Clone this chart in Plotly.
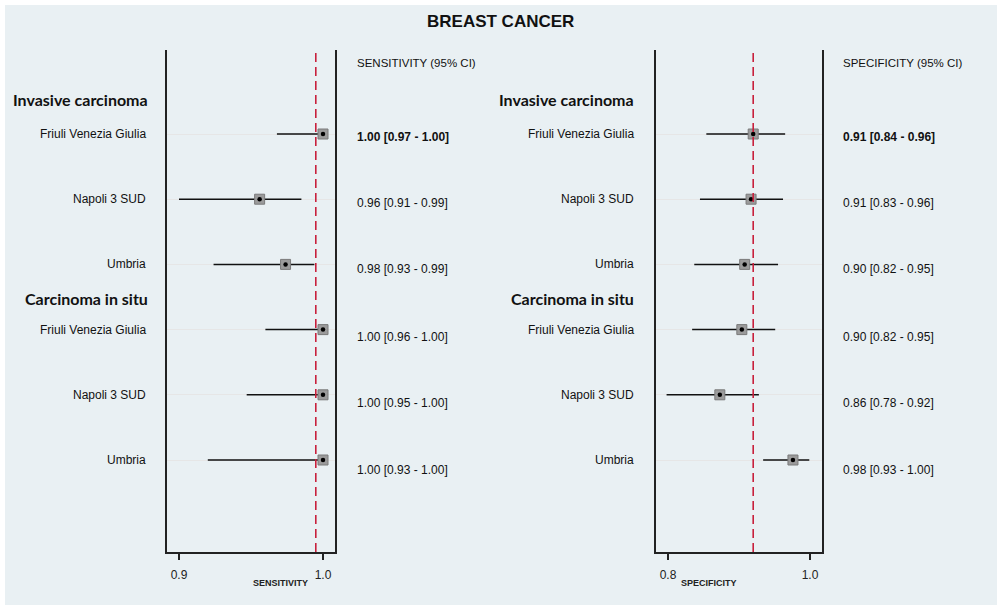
import plotly.graph_objects as go

# ---- data ----
regions = ["Friuli Venezia Giulia", "Napoli 3 SUD", "Umbria",
           "Friuli Venezia Giulia", "Napoli 3 SUD", "Umbria"]
groups = ["Invasive carcinoma", "Carcinoma in situ"]

sens_est = [1.000, 0.956, 0.974, 1.000, 1.000, 1.000]
sens_lo = [0.968, 0.900, 0.924, 0.960, 0.947, 0.920]
sens_hi = [1.000, 0.985, 0.994, 1.000, 1.000, 1.000]
sens_lbl = ["1.00 [0.97 - 1.00]", "0.96 [0.91 - 0.99]", "0.98 [0.93 - 0.99]",
            "1.00 [0.96 - 1.00]", "1.00 [0.95 - 1.00]", "1.00 [0.93 - 1.00]"]
sens_pooled = 0.995

spec_est = [0.920, 0.917, 0.908, 0.904, 0.873, 0.976]
spec_lo = [0.854, 0.845, 0.837, 0.834, 0.798, 0.934]
spec_hi = [0.965, 0.962, 0.955, 0.951, 0.928, 0.999]
spec_lbl = ["0.91 [0.84 - 0.96]", "0.91 [0.83 - 0.96]", "0.90 [0.82 - 0.95]",
            "0.90 [0.82 - 0.95]", "0.86 [0.78 - 0.92]", "0.98 [0.93 - 1.00]"]
spec_pooled = 0.920

sens_ticks = [0.9, 1.0]
spec_ticks = [0.8, 1.0]

# ---- layout constants ----
W, H = 1000, 609
BG = "#e9f0f3"
ROW_PX = 65.2
row_y = list(range(6))
px = lambda p: p / ROW_PX
y_range = [px(552 - 134), px(50 - 134)]
header_y = [px(99 - 134), px(298 - 134)]
lbl_off = [3, 4, 5, 7, 8, 10]

fig = go.Figure()

def panel(xa, ya, est, lo, hi):
    fig.add_trace(go.Scatter(
        x=est, y=row_y, xaxis=xa, yaxis=ya, mode="markers",
        marker=dict(symbol="square", size=10, color="#9b9b9b",
                    line=dict(color="#7a7a7a", width=1)),
        error_x=dict(type="data", symmetric=False,
                     array=[h - e for h, e in zip(hi, est)],
                     arrayminus=[e - l for e, l in zip(est, lo)],
                     color="#111111", thickness=1.5, width=0),
        hoverinfo="skip", showlegend=False))
    fig.add_trace(go.Scatter(
        x=est, y=row_y, xaxis=xa, yaxis=ya, mode="markers",
        marker=dict(symbol="circle", size=4.5, color="black"),
        hoverinfo="skip", showlegend=False))

panel("x", "y", sens_est, sens_lo, sens_hi)
panel("x2", "y2", spec_est, spec_lo, spec_hi)

ydom = [(H - 552) / H, (H - 50) / H]
axis_common = dict(showgrid=False, zeroline=False, showline=True,
                   linecolor="#222222", linewidth=1.5, ticks="outside",
                   ticklen=6, tickwidth=1.5, tickcolor="#222222",
                   ticklabelstandoff=5,
                   tickfont=dict(family="Arial", size=12, color="#222222"),
                   fixedrange=True)
yaxis_common = dict(range=y_range, domain=ydom, showticklabels=False,
                    tickvals=row_y, ticks="", showgrid=True,
                    gridcolor="#e6e6e6", gridwidth=1, zeroline=False,
                    showline=True, mirror=True, linecolor="#222222",
                    linewidth=1.5, fixedrange=True)

s_lo = 0.9 - 12 / 1440
s_hi = 1.0 + 12 / 1440
p_lo = 0.8 - 12 / 710
p_hi = 1.0 + 12 / 710

fig.update_layout(
    width=W, height=H, margin=dict(l=0, r=0, t=0, b=0),
    paper_bgcolor="white", plot_bgcolor="white",
    xaxis=dict(domain=[167 / W, 335 / W], range=[s_lo, s_hi],
               tickvals=sens_ticks, ticktext=["0.9", "1.0"], anchor="y",
               **axis_common),
    xaxis2=dict(domain=[656 / W, 822 / W], range=[p_lo, p_hi],
                tickvals=spec_ticks, ticktext=["0.8", "1.0"], anchor="y2",
                **axis_common),
    yaxis=dict(anchor="x", **yaxis_common),
    yaxis2=dict(anchor="x2", **yaxis_common),
)

shapes = [dict(type="rect", xref="paper", yref="paper", x0=5 / W, x1=1 - 3 / W,
               y0=4 / H, y1=1 - 5 / H, fillcolor=BG, line=dict(width=0),
               layer="below")]
for xr, yr, v in [("x", "y domain", sens_pooled), ("x2", "y2 domain", spec_pooled)]:
    shapes.append(dict(type="line", xref=xr, yref=yr, x0=v, x1=v, y0=0, y1=1,
                       line=dict(color="#c8203c", width=1.6, dash="9px,5px"),
                       layer="above"))
fig.update_layout(shapes=shapes)

ann = []
ann.append(dict(text="<b>BREAST CANCER</b>", x=500 / W, y=1 - 22 / H,
                xref="paper", yref="paper", showarrow=False, yanchor="middle",
                font=dict(family="Arial", size=17, color="#111111")))
for lab_x, hdr_x, val_x, lbls, head, xtitle, xc in [
        (148, 150, 355, sens_lbl, "SENSITIVITY (95% CI)", "SENSITIVITY", 251),
        (636, 636, 841, spec_lbl, "SPECIFICITY (95% CI)", "SPECIFICITY", 739)]:
    ann.append(dict(text=head, x=val_x / W, y=1 - 63 / H, xref="paper",
                    yref="paper", xanchor="left", yanchor="middle",
                    showarrow=False,
                    font=dict(family="Arial", size=11.5, color="#111111")))
    ann.append(dict(text="<b>" + xtitle + "</b>", x=xc / W, y=1 - 583 / H,
                    xref="paper", yref="paper", yanchor="middle",
                    showarrow=False,
                    font=dict(family="Arial", size=9, color="#222222")))
    for g, gy in zip(groups, header_y):
        ann.append(dict(text="<b>" + g + "</b>", x=hdr_x / W, y=gy,
                        xref="paper", yref="y", xanchor="right",
                        yanchor="middle", showarrow=False,
                        font=dict(family="Lato", size=16, color="#111111")))
    for i, (r, l) in enumerate(zip(regions, lbls)):
        ann.append(dict(text=r, x=lab_x / W, y=row_y[i], xref="paper",
                        yref="y", xanchor="right", yanchor="middle",
                        showarrow=False,
                        font=dict(family="Arial", size=12, color="#111111")))
        t = "<b>" + l + "</b>" if i == 0 else l
        ann.append(dict(text=t, x=val_x / W, y=row_y[i] + px(lbl_off[i]),
                        xref="paper", yref="y", xanchor="left",
                        yanchor="middle", showarrow=False,
                        font=dict(family="Arial", size=12, color="#111111")))
fig.update_layout(annotations=ann)

fig.write_html("out.html", config={"displayModeBar": False},
               post_script="document.body.style.margin='0';document.body.style.overflow='hidden';")
